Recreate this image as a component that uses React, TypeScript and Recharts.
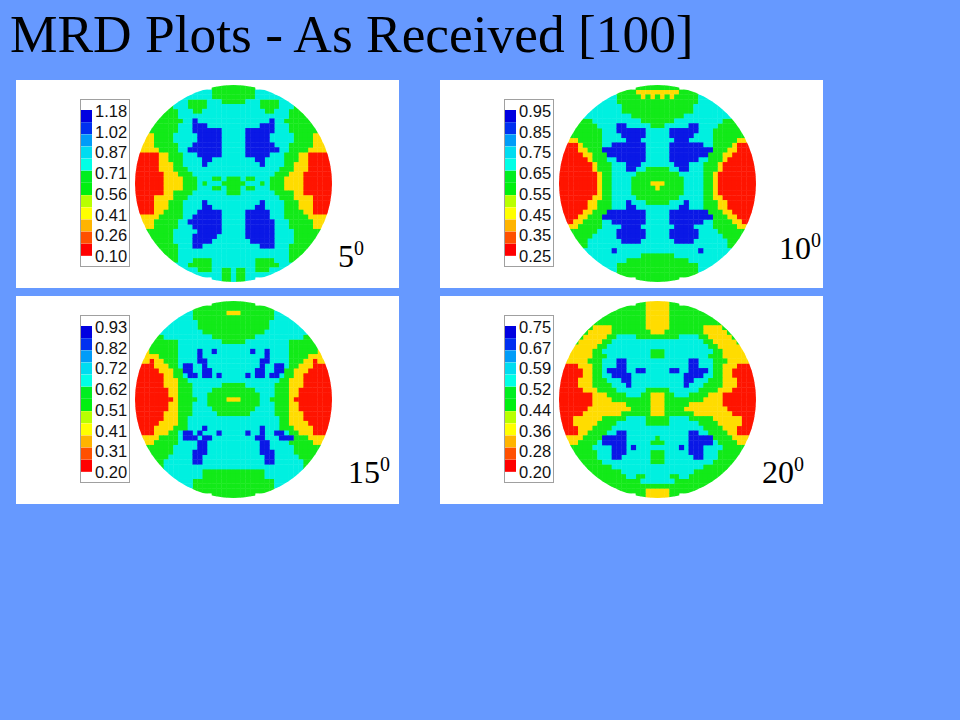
import React from "react";
import { ScatterChart, Scatter, XAxis, YAxis, BarChart, Bar, Cell } from "recharts";

const TITLE = "MRD Plots - As Received [100]";

const LEVEL_COLORS: Record<string, string> = {
  R: "#ff1400",
  Y: "#ffdc00",
  G: "#12ea18",
  C: "#00f0e0",
  B: "#0a18e6",
};

const SWATCHES = ["#0000e0", "#0030f0", "#009cf8", "#00dcf0", "#00ffe6", "#00ee20", "#00f010", "#b8ff00", "#ffff00", "#ffb400", "#ff5000", "#ff0000"];

const labels5 = ["1.18", "1.02", "0.87", "0.71", "0.56", "0.41", "0.26", "0.10"];
const labels10 = ["0.95", "0.85", "0.75", "0.65", "0.55", "0.45", "0.35", "0.25"];
const labels15 = ["0.93", "0.82", "0.72", "0.62", "0.51", "0.41", "0.31", "0.20"];
const labels20 = ["0.75", "0.67", "0.59", "0.52", "0.44", "0.36", "0.28", "0.20"];

const rows5 = [
  "9G", "4C 9G 4C", "6C 9G 6C", "3C 4G 3C 5G 3C 4G 3C", "1G 3C 4G 11C 4G 3C 1G", "3G 3C 2G 13C 2G 3C 3G", "4G 23C 4G",
  "6G 2C 1B 15C 1B 2C 6G", "6G 3C 3B 11C 3B 3C 6G", "6G 3C 6B 5C 6B 3C 6G", "2Y 4G 5C 5B 5C 5B 5C 4G 2Y", "2Y 4G 5C 5B 5C 5B 5C 4G 2Y",
  "3Y 5G 3C 6B 5C 6B 3C 5G 3Y", "4Y 4G 2C 7B 5C 7B 2C 4G 4Y", "5R 2Y 3G 3C 5B 5C 5B 3C 3G 2Y 5R", "5R 2Y 3G 4C 2B 9C 2B 4C 3G 2Y 5R",
  "5R 3Y 2G 4C 1B 11C 1B 4C 2G 3Y 5R", "5R 3Y 3G 19C 3G 3Y 5R", "6R 3Y 3G 17C 3G 3Y 6R", "6R 4Y 3G 3C 2G 1C 3G 1C 2G 3C 3G 4Y 6R",
  "6R 4Y 3G 1C 1G 3C 5G 3C 1G 1C 3G 4Y 6R", "6R 4Y 3G 3C 2G 1C 3G 1C 2G 3C 3G 4Y 6R", "6R 2Y 4G 7C 3G 7C 4G 2Y 6R", "4R 4Y 3G 19C 3G 4Y 4R",
  "4R 3Y 3G 4C 1B 11C 1B 4C 3G 3Y 4R", "4R 3Y 3G 4C 2B 9C 2B 4C 3G 3Y 4R", "4R 2Y 4G 3C 5B 5C 5B 3C 4G 2Y 4R", "4Y 5G 2C 6B 5C 5B 3C 5G 4Y",
  "3Y 5G 2C 7B 5C 6B 3C 5G 3Y", "2Y 5G 3C 6B 5C 6B 3C 5G 2Y", "6G 5C 5B 5C 6B 4C 6G", "5G 4C 5B 6C 6B 4C 5G", "5G 4C 4B 8C 5B 4C 5G",
  "5G 3C 2B 12C 3B 3C 5G", "4G 23C 4G", "3G 23C 3G", "2G 3C 4G 9C 4G 3C 2G", "3C 5G 9C 5G 3C", "3C 3G 2C 2G 1C 2G 2C 3G 3C", "6C 2G 1C 2G 6C", "2C 2G 1C 2G 2C",
];

const rows10 = [
  "9G", "4G 9Y 4G", "2C 5G 1Y 1G 1Y 1G 1Y 1G 1Y 5G 2C", "4C 17G 4C", "6C 15G 6C", "7C 15G 7C", "10C 11G 10C",
  "3G 10C 7G 10C 3G", "5G 4C 2B 5C 3G 5C 2B 4C 5G", "6G 3C 6B 5C 6B 3C 6G", "7G 4C 5B 5C 5B 4C 7G", "2Y 5G 5C 3B 7C 3B 5C 5G 2Y",
  "3R 1Y 4G 2C 7B 5C 7B 2C 4G 1Y 3R", "3R 2Y 3G 9B 5C 9B 3G 2Y 3R", "5R 2Y 3G 8B 5C 8B 3G 2Y 5R", "6R 1Y 3G 2C 6B 5C 6B 2C 3G 1Y 6R",
  "7R 1Y 3G 3C 3B 7C 3B 3C 3G 1Y 7R", "7R 1Y 3G 3C 2B 2C 5G 2C 2B 3C 3G 1Y 7R", "8R 1Y 2G 5C 9G 5C 2G 1Y 8R", "8R 1Y 2G 4C 11G 4C 2G 1Y 8R",
  "8R 1Y 2G 4C 4G 3Y 4G 4C 2G 1Y 8R", "8R 1Y 2G 4C 5G 1Y 5G 4C 2G 1Y 8R", "8R 1Y 2G 4C 11G 4C 2G 1Y 8R", "7R 2Y 2G 5C 9G 5C 2G 2Y 7R",
  "6R 2Y 3G 3C 1B 3C 5G 3C 1B 3C 3G 2Y 6R", "6R 2Y 3G 3C 2B 9C 2B 3C 3G 2Y 6R", "5R 2Y 3G 8B 5C 8B 3G 2Y 5R", "3R 2Y 3G 9B 5C 9B 3G 2Y 3R",
  "2R 2Y 4G 2C 7B 5C 7B 2C 4G 2Y 2R", "2Y 5G 4C 4B 7C 4B 4C 5G 2Y", "6G 4C 6B 5C 6B 4C 6G", "4G 5C 6B 5C 6B 5C 4G", "3G 7C 4B 7C 4B 7C 3G",
  "2G 29C 2G", "6C 1B 17C 1B 6C", "11C 7G 11C", "7C 13G 7C", "4C 17G 4C", "2C 17G 2C", "17G", "9G",
];

const rows15 = [
  "9G", "17G", "2C 7G 3Y 7G 2C", "4C 17G 4C", "6C 15G 6C", "7C 15G 7C", "9C 13G 9C",
  "2G 10C 9G 10C 2G", "6G 9C 5G 9C 6G", "6G 23C 6G", "1Y 6G 4C 1B 2C 1B 7C 1B 2C 1B 4C 6G 1Y", "3Y 4G 4C 1B 13C 1B 4C 4G 3Y",
  "2Y 1R 2Y 3G 4C 2B 11C 2B 4C 3G 2Y 1R 2Y", "3R 3Y 2G 1C 2B 2C 1B 11C 1B 2C 2B 1C 2G 3Y 3R", "5R 3Y 2G 2B 2C 2B 9C 2B 2C 2B 2G 3Y 5R",
  "6R 2Y 2G 1C 2B 1C 2B 1C 1B 5C 1B 1C 2B 1C 2B 1C 2G 2Y 6R", "6R 3Y 2G 19C 2G 3Y 6R", "6R 3Y 3G 6C 5G 6C 3G 3Y 6R", "7R 2Y 3G 4C 9G 4C 3G 2Y 7R",
  "7R 2Y 3G 3C 11G 3C 3G 2Y 7R", "8R 1Y 4G 2C 4G 3Y 4G 2C 4G 1Y 8R", "7R 2Y 3G 3C 11G 3C 3G 2Y 7R", "7R 2Y 3G 4C 9G 4C 3G 2Y 7R", "6R 3Y 3G 5C 7G 5C 3G 3Y 6R",
  "6R 3Y 2G 19C 2G 3Y 6R", "5R 4Y 2G 19C 2G 4Y 5R", "4R 4Y 3G 3C 1B 11C 1B 3C 3G 4Y 4R", "3R 3Y 2G 1C 2B 1C 1B 3C 1B 5C 1B 2C 1B 2C 2B 1C 2G 3Y 3R",
  "4Y 4G 1C 3B 1C 2B 9C 2B 3C 3B 3G 4Y", "2Y 5G 4C 2B 11C 2B 4C 5G 2Y", "6G 5C 2B 11C 2B 5C 6G", "5G 4C 3B 11C 3B 4C 5G", "4G 5C 2B 13C 2B 5C 4G",
  "2G 6C 2B 13C 2B 6C 2G", "1G 29C 1G", "8C 13G 8C", "7C 13G 7C", "4C 17G 4C", "2C 17G 2C", "17G", "9G",
];

const rows20 = [
  "2G 5Y 2G", "6G 5Y 6G", "8G 5Y 8G", "10G 5Y 10G", "11G 5Y 11G", "1G 4Y 7G 5Y 7G 4Y 1G", "1G 5Y 8G 3Y 8G 5Y 1G",
  "1G 5Y 2G 4C 9G 4C 2G 5Y 1G", "1G 5Y 2G 19C 2G 5Y 1G", "5Y 2G 21C 2G 5Y", "5Y 2G 10C 3G 10C 2G 5Y", "5Y 3G 9C 3G 9C 3G 5Y",
  "5Y 3G 3C 2B 13C 2B 3C 3G 5Y", "3R 3Y 2G 3C 2B 13C 2B 3C 2G 3Y 3R", "5R 2Y 2G 1C 4B 2C 2B 5C 2B 2C 4B 1C 2G 2Y 5R", "5R 2Y 2G 2C 4B 11C 4B 2C 2G 2Y 5R",
  "4R 3Y 3G 3C 2B 11C 2B 3C 3G 3Y 4R", "4R 3Y 4G 3C 1B 11C 1B 3C 4G 3Y 4R", "5R 3Y 4G 6C 5G 6C 4G 3Y 5R", "7R 3Y 4G 3C 2G 3Y 2G 3C 4G 3Y 7R",
  "7R 4Y 8G 3Y 8G 4Y 7R", "7R 7Y 5G 3Y 5G 7Y 7R", "6R 9Y 4G 3Y 4G 9Y 6R", "5R 8Y 6G 3Y 6G 8Y 5R", "3R 6Y 5G 4C 5G 4C 5G 6Y 3R", "3R 5Y 4G 6C 5G 6C 4G 5Y 3R",
  "4R 3Y 4G 19C 4G 3Y 4R", "3R 2Y 4G 2C 2B 13C 2B 2C 4G 2Y 3R", "4Y 4G 5B 6C 1G 6C 5B 4G 4Y", "2Y 4G 1C 5B 5C 3G 5C 5B 1C 4G 2Y",
  "5G 4C 3B 1C 1B 9C 1B 1C 3B 4C 5G", "5G 3C 3B 5C 3G 5C 3B 3C 5G", "5G 3C 2B 6C 3G 6C 2B 3C 5G", "5G 10C 3G 10C 5G", "6G 19C 6G", "7G 15C 7G",
  "7G 2C 2G 5C 2G 2C 7G", "9G 7C 9G", "21G", "6G 5Y 6G", "2G 5Y 2G",
];

const GRID = 41;
const CELL_PX = 197 / GRID;

function decodeRows(rows: string[]) {
  const byLevel: Record<string, { col: number; row: number }[]> = { R: [], Y: [], G: [], C: [], B: [] };
  rows.forEach((line, row) => {
    const runs = line.split(" ").map((t) => ({ n: parseInt(t, 10), k: t[t.length - 1] }));
    const total = runs.reduce((s, r) => s + r.n, 0);
    let col = (GRID - total) / 2;
    runs.forEach((r) => {
      for (let i = 0; i < r.n; i++) {
        byLevel[r.k].push({ col: col + 0.5, row: row + 0.5 });
        col++;
      }
    });
  });
  return byLevel;
}

const Square = (props: any) => (
  <rect x={props.cx - CELL_PX / 2 - 0.2} y={props.cy - CELL_PX / 2 - 0.2} width={CELL_PX + 0.4} height={CELL_PX + 0.4} fill={props.fill} />
);

const swatchData = SWATCHES.map((c, i) => ({ name: String(i), v: 1, c }));

function Panel({ left, top, circleLeft, legendLeft, rows, labels, angle, angleX, angleY }: any) {
  const byLevel = decodeRows(rows);
  const W = 383, H = 208;
  const mLeft = circleLeft, mTop = 5;
  return (
    <div style={{ position: "absolute", left, top, width: W, height: H, background: "#fff" }}>
      <div style={{ position: "absolute", left: 0, top: 0, clipPath: `circle(98.5px at ${mLeft + 98.5}px ${mTop + 98.5}px)` }}>
        <ScatterChart width={W} height={H} margin={{ left: mLeft, top: mTop, right: W - mLeft - 197, bottom: H - mTop - 197 }}>
          <XAxis type="number" dataKey="col" domain={[0, GRID]} hide />
          <YAxis type="number" dataKey="row" domain={[0, GRID]} reversed hide />
          {Object.keys(byLevel).map((k) => (
            <Scatter key={k} data={byLevel[k]} fill={LEVEL_COLORS[k]} shape={Square} isAnimationActive={false} />
          ))}
        </ScatterChart>
      </div>
      <div style={{ position: "absolute", left: legendLeft, top: 19, width: 48, height: 166, border: "1px solid #a0a0a0", background: "#fff" }} />
      <div style={{ position: "absolute", left: legendLeft + 1, top: 30 }}>
        <BarChart width={11} height={146} data={swatchData} layout="vertical" margin={{ left: 0, right: 0, top: 0, bottom: 0 }} barCategoryGap={0}>
          <XAxis type="number" domain={[0, 1]} hide />
          <YAxis type="category" dataKey="name" hide />
          <Bar dataKey="v" isAnimationActive={false}>
            {swatchData.map((d) => (
              <Cell key={d.name} fill={d.c} />
            ))}
          </Bar>
        </BarChart>
      </div>
      {labels.map((t: string, i: number) => (
        <div key={t + i} style={{ position: "absolute", left: legendLeft + 15, top: 31 + i * 20.7 - 9, fontFamily: "'Liberation Sans'", fontSize: 16.5, lineHeight: "18px", color: "#111" }}>
          {t}
        </div>
      ))}
      <div style={{ position: "absolute", left: angleX, top: angleY - 31, fontFamily: "'Liberation Serif'", fontSize: 32, lineHeight: "38px", color: "#000", whiteSpace: "nowrap" }}>
        {angle}
        <span style={{ fontSize: 20, position: "relative", top: -12 }}>0</span>
      </div>
    </div>
  );
}

export default function App() {
  return (
    <div style={{ position: "absolute", left: 0, top: 0, width: 960, height: 720, background: "#6699ff", overflow: "hidden" }}>
      <div style={{ position: "absolute", left: 10, top: 6, fontFamily: "'Liberation Serif'", fontSize: 53.4, lineHeight: "56px", color: "#000", whiteSpace: "nowrap" }}>{TITLE}</div>
      <Panel left={16} top={80} circleLeft={119} legendLeft={64} rows={rows5} labels={labels5} angle="5" angleX={322} angleY={188} />
      <Panel left={440} top={80} circleLeft={119} legendLeft={64} rows={rows10} labels={labels10} angle="10" angleX={339} angleY={180} />
      <Panel left={16} top={296} circleLeft={119} legendLeft={64} rows={rows15} labels={labels15} angle="15" angleX={332} angleY={188} />
      <Panel left={440} top={296} circleLeft={119} legendLeft={64} rows={rows20} labels={labels20} angle="20" angleX={322} angleY={188} />
    </div>
  );
}
